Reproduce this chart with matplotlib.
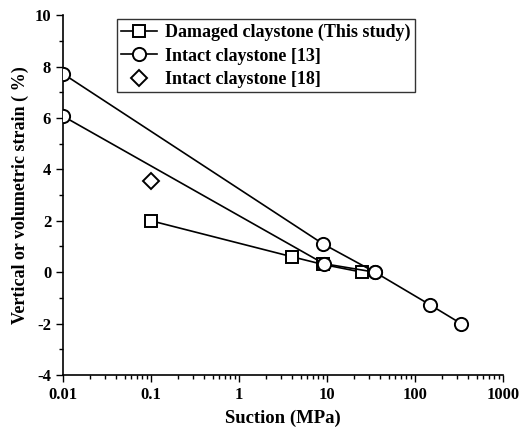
import numpy as np
import matplotlib.pyplot as plt
from matplotlib.ticker import MultipleLocator, FixedLocator, FixedFormatter, LogLocator, NullFormatter

plt.rcParams['font.family'] = ['Liberation Serif', 'DejaVu Serif']
plt.rcParams['font.weight'] = 'bold'
plt.rcParams['axes.unicode_minus'] = False

# damaged claystone (this study)
dam_s = [0.1, 4.0, 9.0, 25.0]
dam_e = [2.0, 0.6, 0.3, 0.0]

# intact claystone [13], two curves
int1_s = [0.01, 9.0, 35.0, 148.0, 333.0]
int1_e = [7.72, 1.1, 0.0, -1.27, -2.0]
int2_s = [0.01, 9.2, 35.0]
int2_e = [6.07, 0.33, 0.0]

# intact claystone [18]
ref_s = [0.1]
ref_e = [3.53]

fig = plt.figure(figsize=(5.23, 4.33), dpi=100)
ax = fig.add_axes([0.1205, 0.134, 0.8413, 0.831])

ax.plot(dam_s, dam_e, 'k-s', lw=1.2, ms=8, mfc='white', mec='black', mew=1.4,
        label='Damaged claystone (This study)', zorder=3)
ax.plot(int1_s, int1_e, 'k-o', lw=1.2, ms=9.5, mfc='white', mec='black', mew=1.4,
        label='Intact claystone [13]', zorder=4)
ax.plot(int2_s, int2_e, 'k-o', lw=1.2, ms=9.5, mfc='white', mec='black', mew=1.4, zorder=4)
ax.plot(ref_s, ref_e, 'kD', ms=8, mfc='white', mec='black', mew=1.4, linestyle='none',
        label='Intact claystone [18]', zorder=3)

ax.set_xscale('log')
ax.set_xlim(0.01, 1000)
ax.set_ylim(-4, 10)

ax.xaxis.set_major_locator(FixedLocator([0.01, 0.1, 1, 10, 100, 1000]))
ax.xaxis.set_major_formatter(FixedFormatter(['0.01', '0.1', '1', '10', '100', '1000']))
ax.xaxis.set_minor_locator(LogLocator(base=10, subs=np.arange(2, 10)))
ax.xaxis.set_minor_formatter(NullFormatter())
ax.yaxis.set_major_locator(MultipleLocator(2))
ax.yaxis.set_minor_locator(MultipleLocator(1))

ax.spines['top'].set_visible(False)
ax.spines['right'].set_visible(False)
ax.spines['left'].set_linewidth(1.2)
ax.spines['bottom'].set_linewidth(1.2)
ax.tick_params(which='both', direction='out', width=1.0, labelsize=12)
ax.tick_params(which='major', length=5)
ax.tick_params(which='minor', length=3)

ax.set_xlabel('Suction (MPa)', fontsize=13.5, fontweight='bold', labelpad=5)
ax.set_ylabel('Vertical or volumetric strain ( %)', fontsize=13, fontweight='bold', labelpad=4)

leg = ax.legend(loc='upper left', bbox_to_anchor=(0.122, 0.988), fontsize=13,
                frameon=True, fancybox=False, edgecolor='black', handlelength=2.0,
                handletextpad=0.4, borderpad=0.25, labelspacing=0.35, borderaxespad=0)
leg.get_frame().set_linewidth(1.0)

plt.savefig('out.png', dpi=100)
